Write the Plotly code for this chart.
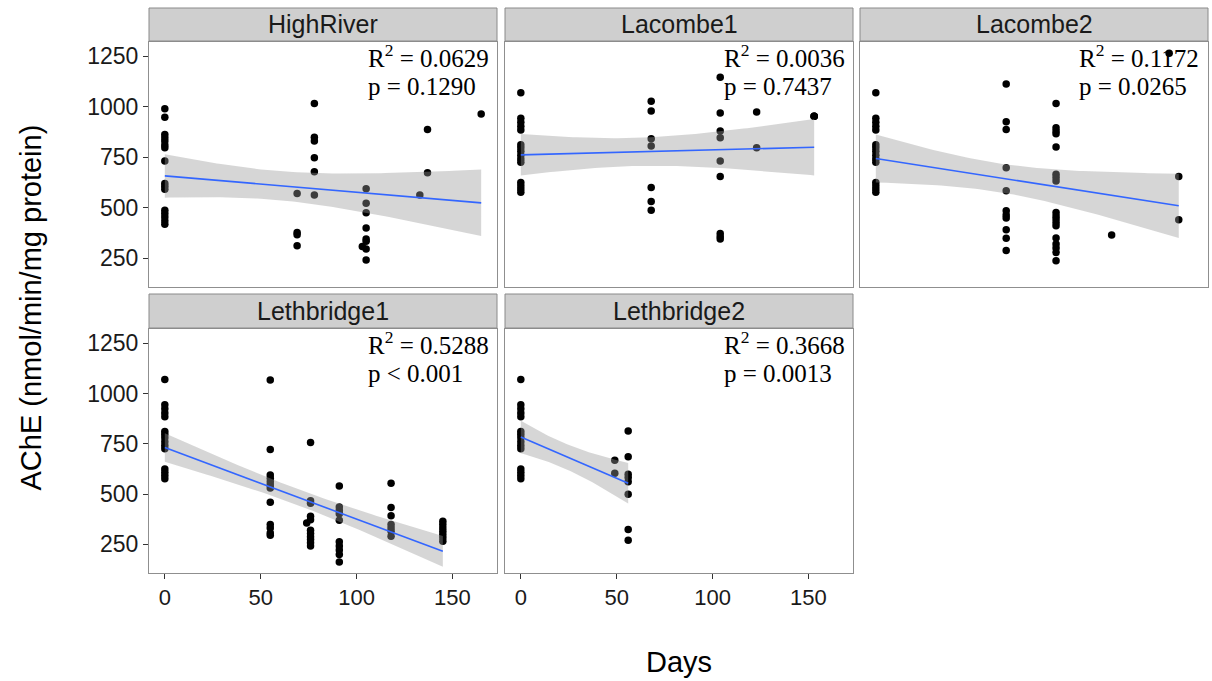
import numpy as np
import plotly.graph_objects as go

# ---- data: AChE activity (nmol/min/mg protein) by days after exposure ----
sites = ["HighRiver", "Lacombe1", "Lacombe2", "Lethbridge1", "Lethbridge2"]

# shared day-0 control measurements
control_ache = [1070, 944, 924, 904, 885, 812, 797, 780, 760, 742, 726, 625, 609, 593, 577]

highriver_days = [0] * 16 + [69] * 4 + [78] * 6 + [105] * 8 + [103, 133, 137, 137, 165]
highriver_ache = [990, 949, 863, 847, 831, 811, 798, 732, 620, 607, 592, 488, 472, 455, 436, 419,
                  571, 378, 367, 312,
                  1016, 850, 831, 748, 678, 564,
                  595, 523, 475, 400, 345, 334, 296, 242,
                  309, 564, 888, 674, 965]

lacombe1_days = [0] * 15 + [68] * 7 + [104] * 9 + [123] * 2 + [153] * 3
lacombe1_ache = control_ache + [1028, 979, 842, 806, 600, 531, 488,
                                1146, 970, 880, 847, 732, 655, 373, 358, 345,
                                974, 798,
                                954, 954, 954]

lacombe2_days = [0] * 15 + [68] * 11 + [94] * 18 + [123, 153, 158, 158]
lacombe2_ache = control_ache + [1113, 926, 888, 699, 584, 485, 465, 449, 391, 349, 288,
                                1016, 896, 880, 867, 801, 666, 650, 633, 477, 460, 444, 427,
                                411, 350, 321, 301, 279, 238,
                                365, 1266, 655, 441]

lethbridge1_days = [0] * 15 + [55] * 12 + [76] * 11 + [74] + [91] * 10 + [118] * 7 + [145] * 7
lethbridge1_ache = control_ache + [1067, 722, 595, 579, 562, 546, 530, 460, 349, 332, 307, 296,
                                   757, 467, 455, 390, 373, 321, 304, 288, 275, 258, 242,
                                   357,
                                   541, 436, 419, 403, 370, 263, 242, 222, 200, 163,
                                   554, 434, 393, 349, 332, 316, 291,
                                   365, 349, 332, 316, 299, 283, 266]

lethbridge2_days = [0] * 15 + [49] * 2 + [56] * 8
lethbridge2_ache = control_ache + [669, 604,
                                   814, 686, 599, 583, 562, 500, 324, 271]

site_days = [highriver_days, lacombe1_days, lacombe2_days, lethbridge1_days, lethbridge2_days]
site_ache = [highriver_ache, lacombe1_ache, lacombe2_ache, lethbridge1_ache, lethbridge2_ache]

r2_labels = ["0.0629", "0.0036", "0.1172", "0.5288", "0.3668"]
p_labels = ["p = 0.1290", "p = 0.7437", "p = 0.0265", "p < 0.001", "p = 0.0013"]

x_ticks = [0, 50, 100, 150]
y_ticks = [250, 500, 750, 1000, 1250]

# ---- layout geometry (pixels) ----
W, H = 1212, 681
col_px = [(149, 497), (505, 853), (860, 1208)]
row_px = [(42, 287), (329, 573)]
strip_px = [(8, 41), (294, 328)]

all_x = np.concatenate([np.asarray(d, float) for d in site_days])
all_y = np.concatenate([np.asarray(v, float) for v in site_ache])
xr = [all_x.min() - 0.05 * np.ptp(all_x), all_x.max() + 0.05 * np.ptp(all_x)]
yr = [all_y.min() - 0.05 * np.ptp(all_y), all_y.max() + 0.05 * np.ptp(all_y)]


def t975(df):
    # Cornish-Fisher expansion of the Student t 0.975 quantile
    z = 1.959963985
    return (z + (z ** 3 + z) / (4 * df) + (5 * z ** 5 + 16 * z ** 3 + 3 * z) / (96 * df ** 2)
            + (3 * z ** 7 + 19 * z ** 5 + 17 * z ** 3 - 15 * z) / (384 * df ** 3))


def linear_fit(x, y, n_grid=80):
    x = np.asarray(x, float)
    y = np.asarray(y, float)
    n = len(x)
    slope, intercept = np.polyfit(x, y, 1)
    resid = y - (intercept + slope * x)
    s = np.sqrt(np.sum(resid ** 2) / (n - 2))
    sxx = np.sum((x - x.mean()) ** 2)
    grid = np.linspace(x.min(), x.max(), n_grid)
    fit = intercept + slope * grid
    se = s * np.sqrt(1.0 / n + (grid - x.mean()) ** 2 / sxx)
    t = t975(n - 2)
    return grid, fit, fit - t * se, fit + t * se


fig = go.Figure()
shapes = []
annotations = []
font_sans = "Liberation Sans, Arial, sans-serif"
font_serif = "Liberation Serif, Times New Roman, serif"

for i, site in enumerate(sites):
    r, c = divmod(i, 3)
    ax = "" if i == 0 else str(i + 1)
    xname, yname = "x" + ax, "y" + ax
    x0, x1 = col_px[c]
    y0, y1 = row_px[r]
    bottom_axis = (r == 1)
    left_axis = (c == 0)

    fig.layout["xaxis" + ax] = dict(
        domain=[x0 / W, x1 / W], range=xr, anchor=yname,
        tickvals=x_ticks, ticks="outside" if bottom_axis else "", ticklen=5,
        tickcolor="#333333", showticklabels=bottom_axis,
        tickfont=dict(family=font_sans, size=22, color="#1a1a1a"),
        showgrid=False, zeroline=False, showline=True, mirror=True,
        linecolor="#8f8f8f", linewidth=1,
    )
    fig.layout["yaxis" + ax] = dict(
        domain=[1 - y1 / H, 1 - y0 / H], range=yr, anchor=xname,
        tickvals=y_ticks, ticks="outside" if left_axis else "", ticklen=5,
        tickcolor="#333333", showticklabels=left_axis,
        tickfont=dict(family=font_sans, size=23, color="#1a1a1a"),
        showgrid=False, zeroline=False, showline=True, mirror=True,
        linecolor="#8f8f8f", linewidth=1,
    )

    days = site_days[i]
    ache = site_ache[i]
    fig.add_trace(go.Scatter(
        x=days, y=ache, mode="markers", xaxis=xname, yaxis=yname,
        marker=dict(color="black", size=7.5, line=dict(width=0)),
        showlegend=False, hoverinfo="x+y",
    ))

    gx, gfit, glo, ghi = linear_fit(days, ache)
    fig.add_trace(go.Scatter(
        x=np.concatenate([gx, gx[::-1]]), y=np.concatenate([ghi, glo[::-1]]),
        mode="lines", fill="toself", fillcolor="rgba(153,153,153,0.4)",
        line=dict(width=0), xaxis=xname, yaxis=yname,
        showlegend=False, hoverinfo="skip",
    ))
    fig.add_trace(go.Scatter(
        x=gx, y=gfit, mode="lines", line=dict(color="#3366FF", width=1.6),
        xaxis=xname, yaxis=yname, showlegend=False, hoverinfo="skip",
    ))

    # facet strip
    s0, s1 = strip_px[r]
    shapes.append(dict(
        type="rect", xref="paper", yref="paper",
        x0=x0 / W, x1=x1 / W, y0=1 - s1 / H, y1=1 - s0 / H,
        fillcolor="#cfcfcf", line=dict(color="#8a8a8a", width=1), layer="above",
    ))
    annotations.append(dict(
        text=site, xref="paper", yref="paper",
        x=(x0 + x1) / 2 / W, y=1 - (s0 + s1) / 2 / H,
        xanchor="center", yanchor="middle", showarrow=False,
        font=dict(family=font_sans, size=25, color="#1a1a1a"),
    ))

    # statistics labels
    annotations.append(dict(
        text="R<sup>2</sup> = " + r2_labels[i], xref=xname, yref=yname,
        x=105, y=1250, xanchor="left", yanchor="middle", showarrow=False,
        font=dict(family=font_serif, size=25, color="black"),
    ))
    annotations.append(dict(
        text=p_labels[i], xref=xname, yref=yname,
        x=105, y=1100, xanchor="left", yanchor="middle", showarrow=False,
        font=dict(family=font_serif, size=25, color="black"),
    ))

# axis titles
annotations.append(dict(
    text="Days", xref="paper", yref="paper",
    x=(col_px[0][0] + col_px[2][1]) / 2 / W, y=1 - 662 / H,
    xanchor="center", yanchor="middle", showarrow=False,
    font=dict(family=font_sans, size=29, color="black"),
))
annotations.append(dict(
    text="AChE (nmol/min/mg protein)", xref="paper", yref="paper",
    x=30 / W, y=1 - (row_px[0][0] + row_px[1][1]) / 2 / H,
    xanchor="center", yanchor="middle", showarrow=False, textangle=-90,
    font=dict(family=font_sans, size=29, color="black"),
))

fig.update_layout(
    width=W, height=H, margin=dict(l=0, r=0, t=0, b=0),
    paper_bgcolor="white", plot_bgcolor="white",
    shapes=shapes, annotations=annotations, showlegend=False,
)

fig.write_html("out.html")
